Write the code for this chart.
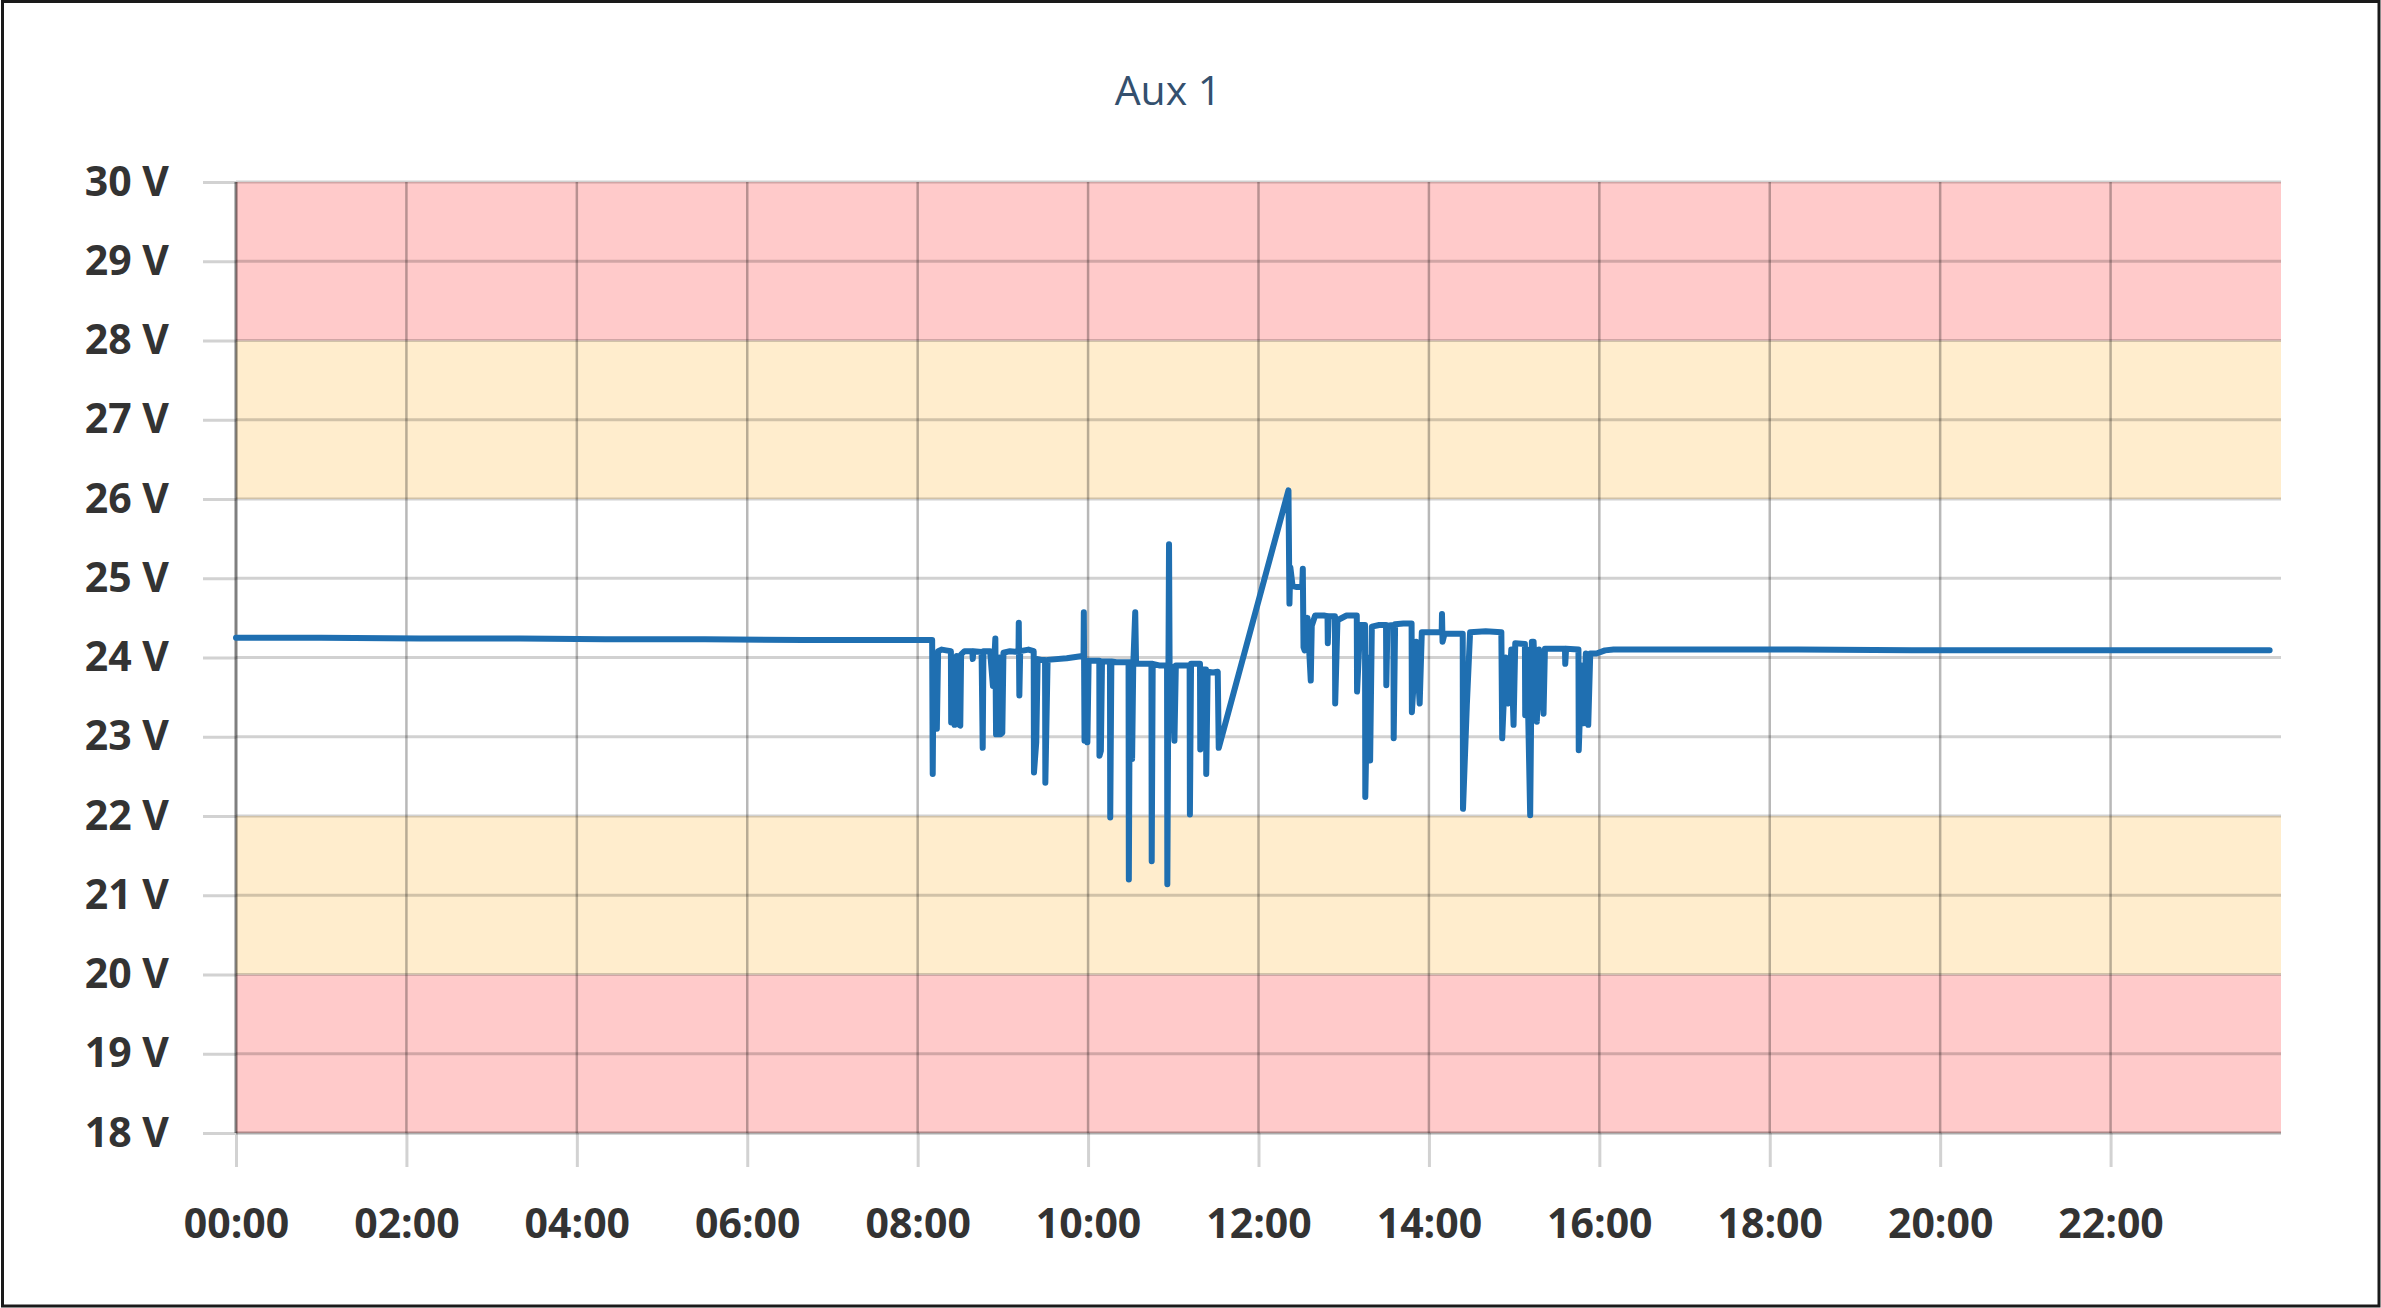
<!DOCTYPE html>
<html>
<head>
<meta charset="utf-8">
<script src="https://cdn.jsdelivr.net/npm/d3@7"></script>
<style>
  body { margin: 0; background: #fff; }
  svg { display: block; }
  svg text { font-family: 'Open Sans', sans-serif; }
</style>
</head>
<body>
<div id="chart"></div>
<script>
const title = 'Aux 1'

const voltTicks = [18, 19, 20, 21, 22, 23, 24, 25, 26, 27, 28, 29, 30]
const hourTicks = [0, 2, 4, 6, 8, 10, 12, 14, 16, 18, 20, 22]

// threshold zones behind the line
const bands = [
  { from: 18, to: 20, level: 'alarm' },
  { from: 20, to: 22, level: 'warning' },
  { from: 26, to: 28, level: 'warning' },
  { from: 28, to: 30, level: 'alarm' }
]

// [minute of day, volts]
const readings = [
  [0, 24.25], [60, 24.25], [130, 24.24], [200, 24.24], [260, 24.23],
  [330, 24.23], [400, 24.22], [465, 24.22], [490.2, 24.22],
  [490.6, 22.53], [491.2, 24.0], [493.5, 23.1], [494.4, 24.08], [497, 24.1], [500, 24.09],
  [503.4, 24.08], [503.6, 23.18], [505, 24.0], [506, 23.15], [507.5, 24.02], [508.5, 23.16],
  [510, 23.14], [510.6, 24.04], [513, 24.08], [518.5, 24.08], [518.8, 23.98], [519.2, 24.08],
  [525, 24.07], [525.8, 22.86], [526.3, 24.08], [531, 24.08], [533, 23.64], [534.7, 24.24],
  [535.2, 23.03], [536, 24.0], [536.8, 23.03], [537.6, 24.0], [538.4, 23.03], [539.6, 23.05],
  [540.4, 24.06], [545, 24.08], [551, 24.07], [551.2, 24.44], [551.6, 23.52], [552.2, 24.08],
  [558, 24.1], [561.7, 24.08], [561.9, 22.55], [563.5, 22.93], [564.5, 23.98], [567, 23.97],
  [569.7, 23.97], [569.9, 22.42], [571.5, 23.97], [585, 23.99], [596, 24.02], [596.8, 24.01],
  [597, 24.57], [597.5, 22.95], [598.5, 23.6], [599.5, 22.93], [600.4, 23.96], [604, 23.96],
  [607.9, 23.96], [608, 22.76], [609, 22.82], [609.8, 23.95], [615.4, 23.95], [615.6, 21.98],
  [616.4, 23.95], [620, 23.94], [628.5, 23.94], [628.7, 21.2], [629.4, 23.94], [631, 22.72],
  [631.8, 23.9], [633.2, 24.57], [633.8, 23.92], [638, 23.92], [644.6, 23.92], [644.8, 21.43],
  [645.5, 23.92], [650, 23.9], [655.6, 23.9], [655.8, 21.14], [656.6, 23.9], [657, 25.43],
  [657.4, 23.9], [659, 23.88], [660.8, 22.95], [661.8, 23.9], [666, 23.9], [671.5, 23.9],
  [671.7, 22.02], [672.5, 23.92], [678.8, 23.92], [679, 22.84], [680, 23.85], [683, 23.85],
  [683.2, 22.53], [684.2, 23.82], [688, 23.81], [691.3, 23.82], [692, 22.86],
  [741.1, 26.11], [741.8, 24.68], [742.4, 25.14], [744, 24.9], [747, 24.89], [750.8, 24.9],
  [751.2, 25.12], [751.7, 24.13], [752.5, 24.09], [754.5, 24.5], [756.8, 23.71], [757.5, 24.4],
  [759.9, 24.53], [766, 24.53], [768.6, 24.52], [768.8, 24.18], [769.4, 24.52], [773.8, 24.52],
  [774, 23.42], [775.6, 24.47], [782, 24.53], [789.2, 24.53], [789.4, 23.57], [791.6, 24.41],
  [795, 24.41], [795.2, 22.24], [797, 24.0], [798.6, 22.7], [799.8, 24.39], [805, 24.41],
  [809.8, 24.41], [810, 23.65], [810.8, 24.4], [815, 24.41], [815.2, 22.98], [816.2, 24.42],
  [822, 24.43], [827.8, 24.43], [828, 23.31], [831, 24.2], [833.5, 23.42], [835, 24.32],
  [842, 24.32], [849, 24.32], [849.2, 24.55], [849.6, 24.2], [851, 24.3], [857, 24.3],
  [863.8, 24.3], [864, 22.09], [866.7, 23.4], [869, 24.32], [880, 24.33], [891, 24.32],
  [891.6, 22.98], [894, 24.0], [896, 23.42], [898, 24.1], [899.6, 23.15], [900.8, 24.18],
  [907.6, 24.17], [907.8, 23.27], [909, 24.1], [911.3, 22.01], [912.5, 24.2], [913.7, 24.2],
  [916, 23.19], [917.5, 24.1], [920.7, 23.29], [921.7, 24.11], [928, 24.11], [935.8, 24.11],
  [936, 23.92], [936.6, 24.11], [945.3, 24.1], [945.5, 22.83], [947.5, 23.9], [949, 23.17],
  [950.5, 24.05], [952.2, 23.15], [953.6, 24.05], [958, 24.05], [964, 24.09], [970, 24.1],
  [1020, 24.1], [1100, 24.1], [1180, 24.09], [1260, 24.09], [1350, 24.09], [1432, 24.09]
]

const width = 2381
const height = 1308
const margin = { top: 182, left: 236, right: 100, bottom: 175 }

const bandColors = { alarm: '#ffcaca', warning: '#ffedcd' }

const day = new Date(2024, 0, 1)
const toDate = m => new Date(day.getTime() + m * 60000)

const x = d3
  .scaleTime()
  .domain([toDate(0), toDate(24 * 60)])
  .range([margin.left, width - margin.right])

const y = d3
  .scaleLinear()
  .domain([18, 30])
  .range([height - margin.bottom, margin.top])

const svg = d3
  .select('#chart')
  .append('svg')
  .attr('width', width)
  .attr('height', height)

// frame
svg
  .append('rect')
  .attr('x', 2.5)
  .attr('y', 1.5)
  .attr('width', width - 4.5)
  .attr('height', height - 3.5)
  .attr('fill', '#fff')
  .attr('stroke', '#1a1a1a')
  .attr('stroke-width', 3)

svg
  .append('text')
  .attr('x', 1168)
  .attr('y', 105)
  .attr('text-anchor', 'middle')
  .attr('font-size', 41)
  .attr('fill', '#34506e')
  .text(title)

// coloured zones
svg
  .append('g')
  .selectAll('rect')
  .data(bands)
  .enter()
  .append('rect')
  .attr('x', x.range()[0])
  .attr('width', x.range()[1] - x.range()[0])
  .attr('y', d => y(d.to))
  .attr('height', d => y(d.from) - y(d.to))
  .attr('fill', d => bandColors[d.level])

// y axis, ticks stick out to the left
const yAxis = svg
  .append('g')
  .attr('transform', `translate(${margin.left},0)`)
  .call(
    d3
      .axisLeft(y)
      .tickValues(voltTicks)
      .tickSize(33)
      .tickPadding(34)
      .tickFormat(d => d + ' V')
  )
yAxis.attr('font-family', null)
yAxis.select('.domain').remove()
yAxis.selectAll('line').attr('stroke', '#d2d2d2').attr('stroke-width', 3)
yAxis
  .selectAll('text')
  .attr('font-size', 41)
  .attr('font-weight', 'bold')
  .attr('fill', '#333')

const xAxis = svg
  .append('g')
  .attr('transform', `translate(0,${y(18)})`)
  .call(
    d3
      .axisBottom(x)
      .tickValues(hourTicks.map(h => toDate(h * 60)))
      .tickSize(34)
      .tickPadding(42)
      .tickFormat(d3.timeFormat('%H:%M'))
  )
xAxis.attr('font-family', null)
xAxis.select('.domain').remove()
xAxis.selectAll('line').attr('stroke', '#d2d2d2').attr('stroke-width', 3)
xAxis
  .selectAll('text')
  .attr('font-size', 41)
  .attr('font-weight', 'bold')
  .attr('fill', '#333')

// grid
svg
  .append('g')
  .selectAll('line')
  .data(voltTicks)
  .enter()
  .append('line')
  .attr('x1', x.range()[0])
  .attr('x2', x.range()[1])
  .attr('y1', d => y(d))
  .attr('y2', d => y(d))
  .attr('stroke', d => (d === 18 ? 'rgba(0,0,0,0.32)' : 'rgba(0,0,0,0.18)'))
  .attr('stroke-width', 3)

svg
  .append('g')
  .selectAll('line')
  .data(hourTicks)
  .enter()
  .append('line')
  .attr('x1', d => x(toDate(d * 60)))
  .attr('x2', d => x(toDate(d * 60)))
  .attr('y1', y(30))
  .attr('y2', y(18))
  .attr('stroke', d => (d === 0 ? 'rgba(0,0,0,0.5)' : 'rgba(0,0,0,0.28)'))
  .attr('stroke-width', d => (d === 0 ? 3 : 2.5))

const line = d3
  .line()
  .x(d => x(toDate(d[0])))
  .y(d => y(d[1]))

svg
  .append('path')
  .datum(readings)
  .attr('d', line)
  .attr('fill', 'none')
  .attr('stroke', '#1f6fb1')
  .attr('stroke-width', 6)
  .attr('stroke-linejoin', 'round')
  .attr('stroke-linecap', 'round')
</script>
</body>
</html>
